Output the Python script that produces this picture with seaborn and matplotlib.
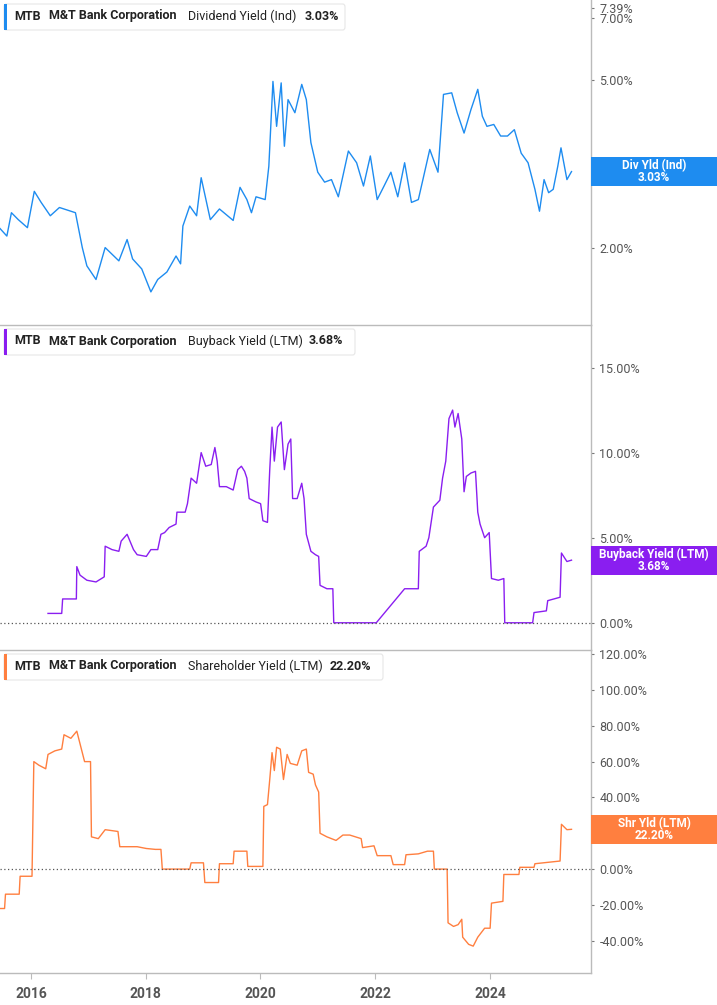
import numpy as np
import pandas as pd
import matplotlib
matplotlib.use("Agg")
import matplotlib.pyplot as plt
import seaborn as sns
from matplotlib.patches import Rectangle, FancyBboxPatch

plt.rcParams["font.family"] = "Roboto"

# x given as position in reference px-units (zx/125.5 years after 2015.46)
div_zx = [0,15,25,40,60,75,90,110,130,165,180,190,210,230,260,278,290,310,330,345,365,385,395,400,415,430,440,460,480,510,525,540,550,560,580,588,597,605,615,622,630,645,660,670,680,695,710,725,740,762,780,795,810,825,840,855,870,885,900,915,925,940,958,970,988,1000,1015,1030,1045,1055,1065,1080,1095,1110,1125,1140,1155,1170,1180,1190,1200,1210,1220,1227,1240,1250]
div_val = [2.22,2.13,2.42,2.33,2.23,2.72,2.56,2.38,2.49,2.42,2.0,1.81,1.68,2.0,1.86,2.09,1.88,1.78,1.57,1.68,1.75,1.91,1.83,2.25,2.51,2.38,2.93,2.33,2.47,2.32,2.78,2.60,2.42,2.64,2.60,3.12,4.96,3.88,4.92,3.48,4.49,4.18,4.88,4.49,3.55,3.02,2.86,2.9,2.64,3.39,3.18,2.80,3.30,2.60,2.80,3.02,2.64,3.18,2.56,2.60,2.90,3.42,3.02,4.62,4.66,4.18,3.74,4.25,4.75,4.10,3.88,3.92,3.68,3.68,3.81,3.35,3.18,2.75,2.44,2.90,2.70,2.75,3.12,3.45,2.90,3.03]

bb_zx = [105,135,137,167,168,175,190,210,228,230,245,260,265,278,292,300,320,330,345,352,360,370,385,387,405,410,418,430,440,450,462,470,475,480,495,510,520,528,535,540,545,560,570,575,585,590,595,600,607,615,622,630,636,640,650,660,665,670,680,690,697,700,715,728,730,823,885,915,917,932,938,948,962,968,975,982,990,995,1002,1010,1015,1020,1030,1040,1045,1050,1060,1070,1075,1090,1102,1104,1165,1168,1195,1198,1225,1228,1240,1250]
bb_val = [0.55,0.55,1.4,1.4,3.3,2.8,2.5,2.4,2.7,4.5,4.3,4.2,4.8,5.2,4.3,4.0,3.9,4.3,4.3,5.2,5.3,5.6,5.8,6.5,6.5,7.0,8.5,8.2,10.0,9.2,9.3,10.3,9.5,8.0,8.0,7.8,9.0,9.2,8.9,8.5,7.3,7.1,7.0,6.0,5.9,9.0,11.5,9.5,11.5,11.8,9.0,10.5,10.8,7.3,7.3,8.2,7.3,5.2,4.2,4.0,3.9,2.2,2.0,2.0,0.0,0.0,2.0,2.0,4.2,4.5,5.0,6.8,7.2,8.5,9.5,12.0,12.5,11.5,12.3,10.8,7.7,8.6,8.8,8.9,6.5,5.8,5.0,5.3,2.6,2.5,2.6,0.0,0.0,0.6,0.7,1.3,1.5,4.1,3.6,3.68]

sh_zx = [0,10,12,42,44,70,74,85,100,105,120,135,140,155,168,175,185,198,200,215,230,258,262,300,320,340,352,355,415,418,445,448,478,480,510,512,540,542,575,577,585,590,595,600,605,613,620,628,635,650,660,670,675,685,690,697,700,715,735,750,765,790,793,818,825,855,860,885,888,915,935,948,950,978,980,992,1002,1010,1012,1025,1035,1045,1060,1072,1075,1100,1102,1135,1137,1168,1170,1225,1228,1240,1250]
sh_val = [-22,-22,-14,-14,-4,-4,60,58,56,64,66,67,75,73,77,70,60,60,18,17,22,21,12.5,12.5,11.5,11,11,0,0,3.5,3.5,-7.5,-7.5,3,3,10,10,1.5,1.5,35,36,50,65,55,68,67,50,64,59,58,66,67,54,53,47,43,20,18,16,19,19,17,12,13,7.5,7.5,2.5,2.5,8,8.5,10,10,0,0,-30,-32,-31,-28,-38,-42,-43,-38,-33,-33,-19,-18,-3,-3,1,1,3,4.5,25,22,22.2]

def to_year(zx):
    return 2015.46 + np.asarray(zx) / 125.5

W, H = 717, 1005
fig = plt.figure(figsize=(W/100, H/100), dpi=100)
AXR = 591 / W

panels = [
    dict(top=0, bot=325, x=div_zx, y=div_val, color="#1e8cf0", title="Dividend Yield (Ind)", last="3.03%",
         tag="Div Yld (Ind)", log=True, ylim=(1.31, 7.74), ticks=[2, 3, 5, 7, 7.39],
         tlabels=["2.00%", "3.00%", "5.00%", "7.00%", "7.39%"], boxw=345),
    dict(top=325, bot=650, x=bb_zx, y=bb_val, color="#8a1ef0", title="Buyback Yield (LTM)", last="3.68%",
         tag="Buyback Yield (LTM)", log=False, ylim=(-1.6, 17.5), ticks=[0, 5, 10, 15],
         tlabels=["0.00%", "5.00%", "10.00%", "15.00%"], boxw=355),
    dict(top=650, bot=973, x=sh_zx, y=sh_val, color="#ff7f3f", title="Shareholder Yield (LTM)", last="22.20%",
         tag="Shr Yld (LTM)", log=False, ylim=(-58, 122.3), ticks=[-40, -20, 0, 20, 40, 60, 80, 100, 120],
         tlabels=["-40.00%", "-20.00%", "0.00%", "20.00%", "40.00%", "60.00%", "80.00%", "100.00%", "120.00%"], boxw=383),
]

axes = []
for i, p in enumerate(panels):
    ax = fig.add_axes([0, 1 - p["bot"]/H, AXR, (p["bot"] - p["top"])/H])
    df = pd.DataFrame({"year": to_year(p["x"]), "val": p["y"]})
    sns.lineplot(data=df, x="year", y="val", ax=ax, color=p["color"], lw=1.0, estimator=None, sort=False)
    if p["log"]:
        ax.set_yscale("log")
    ax.set_ylim(*p["ylim"])
    ax.set_xlim(2015.46, 2025.76)
    ax.yaxis.tick_right()
    ax.set_yticks(p["ticks"])
    ax.set_yticklabels(p["tlabels"])
    ax.minorticks_off()
    ax.tick_params(axis="y", length=2, width=0.8, color="#777777", labelcolor="#555555", labelsize=9, pad=4)
    ax.set_xlabel(""); ax.set_ylabel("")
    for s in ["top", "left"]:
        ax.spines[s].set_visible(False)
    for s in ["right", "bottom"]:
        ax.spines[s].set_color("#bbbbbb"); ax.spines[s].set_linewidth(1.0)
    if not p["log"]:
        ax.axhline(0, color="#555555", ls=(0, (1, 2)), lw=0.9)
    if i < 2:
        ax.set_xticks([])
    else:
        ax.set_xticks([2016, 2018, 2020, 2022, 2024])
        ax.set_xticklabels(["2016", "2018", "2020", "2022", "2024"])
        ax.tick_params(axis="x", length=4, color="#bbbbbb", labelcolor="#555555", labelsize=10, pad=6)
        for t in ax.get_xticklabels():
            t.set_fontweight("bold")
    ax.patch.set_alpha(0)
    # legend box
    ty = 1 - (p["top"] + 16)/H
    box = FancyBboxPatch((4/W, 1 - (p["top"] + 30)/H), (p["boxw"] - 4)/W, 26/H,
                         boxstyle="round,pad=0,rounding_size=0.003", transform=fig.transFigure,
                         fc="white", ec="#e6e6e6", lw=0.8, zorder=5)
    fig.patches.append(box)
    fig.patches.append(Rectangle((4/W, 1 - (p["top"] + 30)/H), 3/W, 26/H, transform=fig.transFigure,
                                 fc=p["color"], ec="none", zorder=6))
    fig.text(14/W, ty, "MTB", fontsize=9, fontweight="bold", color="#222222", va="center", zorder=7)
    fig.text(49/W, ty, "M&T Bank Corporation", fontsize=9, fontweight="bold", color="#222222", va="center", zorder=7)
    t2 = fig.text(188/W, ty, p["title"], fontsize=9, color="#222222", va="center", zorder=7)
    lastx = {0: 305, 1: 309, 2: 330}[i]
    fig.text(lastx/W, ty, p["last"], fontsize=9, fontweight="bold", color="#222222", va="center", zorder=7)
    # right value tag
    if p["log"]:
        yv = ax.transAxes.inverted().transform(ax.transData.transform((2020, 3.03)))[1]
    else:
        yv = ax.transAxes.inverted().transform(ax.transData.transform((2020, float(p["last"].rstrip("%")))))[1]
    yfig = 1 - p["bot"]/H + yv * (p["bot"] - p["top"])/H
    th = 29/H
    fig.patches.append(Rectangle((AXR, yfig - th/2), 1 - AXR, th, transform=fig.transFigure,
                                 fc=p["color"], ec="none", zorder=8))
    cx = (AXR + 1)/2
    fig.text(cx, yfig + 6/H, p["tag"], ha="center", va="center", fontsize=8.5, fontweight="bold", color="white", zorder=9)
    fig.text(cx, yfig - 6/H, p["last"], ha="center", va="center", fontsize=8.5, fontweight="bold", color="white", zorder=9)
    axes.append(ax)

fig.savefig("out.png", dpi=100)
